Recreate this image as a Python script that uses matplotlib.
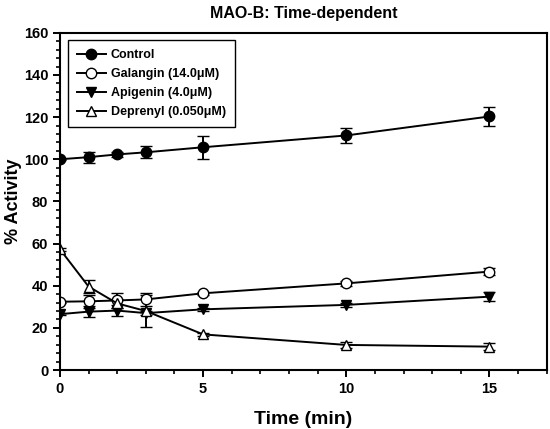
import numpy as np
import matplotlib.pyplot as plt
from matplotlib.ticker import MultipleLocator
from matplotlib.lines import Line2D

plt.rcParams['font.family'] = ['Liberation Sans', 'DejaVu Sans']
plt.rcParams['font.weight'] = 'bold'

time = [0, 1, 2, 3, 5, 10, 15]

control = [100, 101, 102.3, 103.3, 105.7, 111.3, 120.3]
control_err = [0.5, 2.6, 1.0, 2.8, 5.5, 3.6, 4.7]

galangin = [32.4, 32.6, 33, 33.5, 36.4, 41.1, 46.7]
galangin_err = [0.5, 3.0, 3.5, 3.0, 0.8, 1.0, 1.8]

apigenin = [26.5, 27.7, 28.2, 27, 28.8, 30.9, 34.8]
apigenin_err = [0.5, 2.5, 2.5, 1.0, 0.8, 1.0, 2.2]

deprenyl = [57.3, 39.6, 31.6, 28, 16.9, 11.9, 11.1]
deprenyl_err = [0.8, 3.2, 2.0, 7.5, 0.8, 1.6, 1.6]

labels = ['Control', 'Galangin (14.0μM)', 'Apigenin (4.0μM)', 'Deprenyl (0.050μM)']

fig = plt.figure(figsize=(5.5, 4.29), dpi=100)
ax = fig.add_axes([0.109, 0.1375, 0.885, 0.786])

series = [
    (control, control_err, 'o', 'black'),
    (galangin, galangin_err, 'o', 'white'),
    (apigenin, apigenin_err, 'v', 'black'),
    (deprenyl, deprenyl_err, '^', 'white'),
]
handles = []
for (vals, err, mk, fc), lab in zip(series, labels):
    ax.errorbar(time, vals, yerr=err, color='black', marker=mk, markersize=7.5,
                markerfacecolor=fc, markeredgecolor='black', markeredgewidth=1.0,
                linewidth=1.4, elinewidth=1.4, capsize=4, capthick=1.4)
    handles.append(Line2D([], [], color='black', marker=mk, markersize=7.5,
                          markerfacecolor=fc, markeredgecolor='black',
                          markeredgewidth=1.0, linewidth=1.4, label=lab))

ax.set_xlim(0, 17)
ax.set_ylim(0, 160)
ax.xaxis.set_major_locator(MultipleLocator(5))
ax.xaxis.set_minor_locator(MultipleLocator(1))
ax.yaxis.set_major_locator(MultipleLocator(20))
ax.yaxis.set_minor_locator(MultipleLocator(4))
ax.tick_params(which='major', direction='out', length=5, width=1.4, labelsize=10.5)
ax.tick_params(which='minor', direction='out', length=3, width=1.2)
for s in ax.spines.values():
    s.set_linewidth(1.5)
for t in ax.get_xticklabels() + ax.get_yticklabels():
    t.set_fontweight('bold')

ax.set_xlabel('Time (min)', fontsize=14, fontweight='bold', labelpad=11)
ax.set_ylabel('% Activity', fontsize=13, fontweight='bold')
ax.yaxis.set_label_coords(-0.078, 0.5)
ax.set_title('MAO-B: Time-dependent', fontsize=11.5, fontweight='bold', pad=11)

leg = ax.legend(handles=handles, loc='upper left', bbox_to_anchor=(0.016, 0.979),
                fancybox=False, edgecolor='black', framealpha=1, fontsize=9,
                handlelength=2.3, borderpad=0.75, labelspacing=0.55,
                handletextpad=0.4, borderaxespad=0)
leg.get_frame().set_linewidth(1.0)
for t in leg.get_texts():
    t.set_fontweight('bold')

fig.savefig('out.png', dpi=100)
